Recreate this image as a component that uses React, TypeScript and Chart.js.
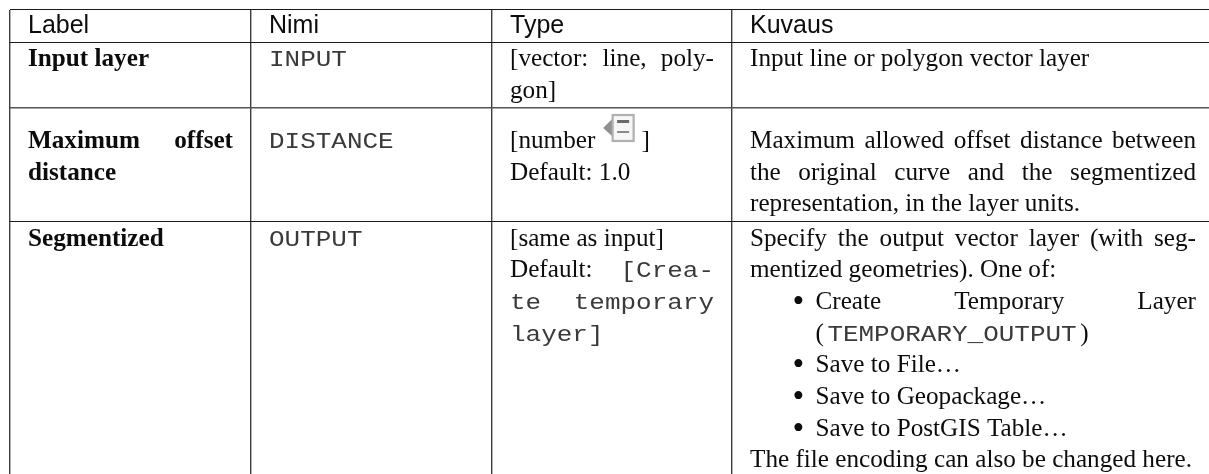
import React, { useEffect, useRef } from "react";
import { Chart, registerables } from "chart.js";

Chart.register(...registerables);

// ---------- table content (`...` marks code text, @ marks the parameter icon) ----------
const headers = ["Label", "Nimi", "Type", "Kuvaus"];
const labelCells = [["Input layer"], ["Maximum offset", "distance"], ["Segmentized"]];
const nameCells = [["`INPUT`"], ["`DISTANCE`"], ["`OUTPUT`"]];
const typeCells = [
  ["[vector: line, poly-", "gon]"],
  ["[number @ ]", "Default: 1.0"],
  ["[same as input]", "Default: `[Crea-`", "`te temporary`", "`layer]`"],
];
const descriptionCells = [
  ["Input line or polygon vector layer"],
  [
    "Maximum allowed offset distance between",
    "the original curve and the segmentized",
    "representation, in the layer units.",
  ],
  [
    "Specify the output vector layer (with seg-",
    "mentized geometries). One of:",
    "• Create Temporary Layer",
    "(`TEMPORARY_OUTPUT`)",
    "• Save to File…",
    "• Save to Geopackage…",
    "• Save to PostGIS Table…",
    "The file encoding can also be changed here.",
  ],
];
const justifiedLines = [
  "Maximum offset",
  "[vector: line, poly-",
  "Default: `[Crea-`",
  "`te temporary`",
  "Maximum allowed offset distance between",
  "the original curve and the segmentized",
  "Specify the output vector layer (with seg-",
  "Create Temporary Layer",
];
const indentedLines = ["(`TEMPORARY_OUTPUT`)"];

// ---------- layout ----------
const W = 1209;
const H = 474;
const LEFT = 10;
const TOP = 10;
const columnEdges = [10, 251, 492, 732];
const rowEdges = [10, 43, 108, 222];
const cellStart = [28, 269, 510, 750];
const cellEnd = [233, 474, 714, 1196];
const headerBaseline = 33;
const rowBaselines = [66, 148, 245.5];
const LINE = 31.7;
const BULLET_TEXT = 65.5;
const CODE_PAD = 3.5;

const SERIF = '25.2px "Liberation Serif"';
const BOLD = 'bold 25.2px "Liberation Serif"';
const BULLET = '33.5px "Liberation Serif"';
const MONO = '22px "Liberation Mono"';
const MONO_STRETCH = 1.18;
const SANS = '25px "Liberation Sans"';
const INK = "#0c0c0c";
const CODE_INK = "#3a3a3a";

type Tok = { text: string; code: boolean; icon: boolean };

function tokens(line: string): Tok[] {
  const out: Tok[] = [];
  line.split("`").forEach((part, i) => {
    part.split(" ").forEach((w) => {
      if (w === "") return;
      out.push({ text: w, code: i % 2 === 1, icon: w === "@" });
    });
  });
  return out;
}

function drawIcon(ctx: CanvasRenderingContext2D, x: number, base: number) {
  ctx.save();
  ctx.fillStyle = "#8f8f8f";
  ctx.beginPath();
  ctx.moveTo(x, base - 20);
  ctx.lineTo(x + 10, base - 30);
  ctx.lineTo(x + 10, base - 11);
  ctx.closePath();
  ctx.fill();
  ctx.fillStyle = "#f6f6f6";
  ctx.strokeStyle = "#b0b0b0";
  ctx.lineWidth = 2.2;
  ctx.fillRect(x + 9.5, base - 33, 21, 26);
  ctx.strokeRect(x + 9.5, base - 33, 21, 26);
  ctx.fillStyle = "#6a6a6a";
  ctx.fillRect(x + 14, base - 28, 12, 3);
  ctx.fillStyle = "#8a8a8a";
  ctx.fillRect(x + 14, base - 17, 12, 2);
  ctx.restore();
}

function measure(ctx: CanvasRenderingContext2D, text: string, code: boolean, font: string) {
  ctx.font = code ? MONO : font;
  return ctx.measureText(text).width * (code ? MONO_STRETCH : 1);
}

function paint(ctx: CanvasRenderingContext2D, text: string, code: boolean, font: string, x: number, y: number) {
  ctx.save();
  ctx.font = code ? MONO : font;
  ctx.fillStyle = code ? CODE_INK : INK;
  ctx.translate(x, y);
  if (code) ctx.scale(MONO_STRETCH, 1);
  ctx.fillText(text, 0, 0);
  ctx.restore();
}

function drawLine(ctx: CanvasRenderingContext2D, line: string, x0: number, x1: number, y: number, font: string) {
  const toks = tokens(line);
  const widths = toks.map((t) => (t.icon ? 32 : measure(ctx, t.text, t.code, font)));
  const gaps = Math.max(1, toks.length - 1);
  const total = widths.reduce((a, b) => a + b, 0);
  const gap = justifiedLines.includes(line) ? (x1 - x0 - total) / gaps : 6.3;
  let x = x0;
  toks.forEach((t, i) => {
    if (t.icon) {
      drawIcon(ctx, x + 1.5, y);
      x += 1.5;
    } else {
      paint(ctx, t.text, t.code, font, x, y);
    }
    x += widths[i] + gap;
  });
}

// Adjoining parentheses and code text are drawn as consecutive runs
function drawRuns(ctx: CanvasRenderingContext2D, line: string, x0: number, y: number) {
  let x = x0;
  line.split("`").forEach((part, i) => {
    if (!part) return;
    const code = i % 2 === 1;
    if (code) x += CODE_PAD;
    paint(ctx, part, code, SERIF, x, y);
    x += measure(ctx, part, code, SERIF) + (code ? CODE_PAD : 0);
  });
}

const tablePlugin = {
  id: "tableText",
  afterDraw(chart: any) {
    const { ctx } = chart;
    const xs = chart.scales.x;
    const ys = chart.scales.y;
    ctx.save();
    ctx.textBaseline = "alphabetic";
    ctx.textAlign = "left";
    headers.forEach((h, c) => {
      paint(ctx, h, false, SANS, xs.getPixelForValue(cellStart[c]), ys.getPixelForValue(headerBaseline));
    });
    const columns = [labelCells, nameCells, typeCells, descriptionCells];
    columns.forEach((cells, c) => {
      const x0 = xs.getPixelForValue(cellStart[c]);
      const x1 = xs.getPixelForValue(cellEnd[c]);
      cells.forEach((lines, r) => {
        lines.forEach((line, l) => {
          const y = ys.getPixelForValue(rowBaselines[r] + l * LINE);
          if (indentedLines.includes(line)) {
            drawRuns(ctx, line, x0 + BULLET_TEXT, y);
          } else if (line.startsWith("• ")) {
            paint(ctx, "•", false, BULLET, x0 + 42.5, y + 3);
            drawLine(ctx, line.slice(2), x0 + BULLET_TEXT, x1, y, SERIF);
          } else {
            drawLine(ctx, line, x0, x1, y, c === 0 ? BOLD : SERIF);
          }
        });
      });
    });
    ctx.restore();
  },
};

export default function App() {
  const ref = useRef<HTMLCanvasElement>(null);
  useEffect(() => {
    if (!ref.current) return;
    const chart = new Chart(ref.current, {
      type: "scatter",
      data: { datasets: [{ data: [] }] },
      plugins: [tablePlugin],
      options: {
        animation: false,
        responsive: false,
        layout: { padding: { left: LEFT, top: TOP, right: 0, bottom: 0 } },
        plugins: { legend: { display: false }, tooltip: { enabled: false } },
        scales: {
          x: {
            type: "linear",
            min: LEFT,
            max: W,
            afterBuildTicks: (s: any) => {
              s.ticks = columnEdges.map((value) => ({ value }));
            },
            ticks: { display: false },
            border: { display: false },
            grid: { color: "#3c3c3c", lineWidth: 1.4, drawTicks: false },
          },
          y: {
            type: "linear",
            min: TOP,
            max: H,
            reverse: true,
            afterBuildTicks: (s: any) => {
              s.ticks = rowEdges.map((value) => ({ value }));
            },
            ticks: { display: false },
            border: { display: false },
            grid: {
              color: (c: any) => (c.tick && c.tick.value === 108 ? "#555555" : "#1a1a1a"),
              lineWidth: (c: any) => (c.tick && c.tick.value === 108 ? 1.6 : 1.1),
              drawTicks: false,
            },
          },
        },
      },
    });
    return () => chart.destroy();
  }, []);
  return (
    <canvas
      ref={ref}
      width={W}
      height={H}
      style={{ position: "fixed", left: 0, top: 0, width: W, height: H, filter: "blur(0.35px)" }}
    />
  );
}
